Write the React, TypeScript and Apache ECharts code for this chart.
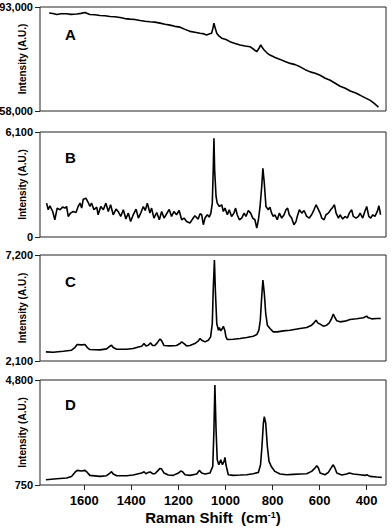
import React, { useEffect, useRef } from "react";
import * as echarts from "echarts";

// Raman shift ticks (cm-1)
const xTicks = [400, 600, 800, 1000, 1200, 1400, 1600];
const panelLabels = ["A", "B", "C", "D"];
const yMins = [58000, 0, 2100, 750];
const yMaxs = [93000, 6100, 7200, 4800];

// [Raman shift, intensity]
const specA: [number, number][] = [
  [1749, 90970], [1733, 90800], [1717, 90500], [1699, 90730], [1675, 90730], [1657, 90530],
  [1632, 90630], [1614, 90860], [1597, 91170], [1576, 90490], [1555, 90390], [1533, 90150],
  [1512, 90080], [1491, 89810], [1470, 89710], [1448, 89470], [1427, 89100], [1406, 88930],
  [1385, 88800], [1363, 88460], [1342, 88190], [1321, 88020], [1300, 87920], [1278, 87580],
  [1257, 87170], [1236, 86900], [1215, 86490], [1193, 86220], [1172, 85470], [1151, 84800],
  [1130, 84530], [1108, 84190], [1091, 83950], [1080, 83610], [1070, 83880], [1059, 84190],
  [1053, 85980], [1049, 87580], [1044, 85980], [1037, 84190], [1028, 83270], [1016, 82490],
  [998, 82080], [981, 81340], [959, 80730], [938, 80220], [917, 79880], [896, 79640],
  [879, 78690], [867, 77950], [857, 79200], [850, 80220], [845, 79540], [836, 78520],
  [823, 77510], [811, 76830], [789, 75980], [768, 75370], [747, 74630], [725, 74020],
  [704, 73610], [683, 72860], [661, 71910], [640, 71170], [619, 70730], [598, 70050],
  [576, 69030], [555, 68350], [534, 67340], [513, 66320], [491, 65640], [470, 64730],
  [449, 64120], [427, 63270], [406, 62420], [385, 61580], [368, 60560], [350, 59300],
];

const specB: [number, number][] = [
  [1760, 1969], [1753, 1581], [1746, 1812], [1734, 1482], [1725, 1002], [1715, 1679],
  [1703, 1581], [1692, 1737], [1682, 1679], [1675, 1772], [1668, 1193], [1658, 1390],
  [1647, 1482], [1635, 1424], [1626, 1772], [1618, 1969], [1611, 1679], [1604, 2200],
  [1593, 2258], [1583, 2003], [1576, 1772], [1569, 1969], [1559, 1581], [1547, 1737],
  [1541, 1291], [1530, 1772], [1519, 1581], [1508, 1969], [1498, 1482], [1488, 1870],
  [1477, 1291], [1465, 1621], [1456, 1482], [1445, 1193], [1434, 1581], [1423, 1042],
  [1413, 1390], [1403, 903], [1392, 1291], [1380, 1621], [1370, 1100], [1360, 1390],
  [1349, 1772], [1341, 1540], [1332, 1969], [1321, 1390], [1314, 1679], [1304, 1100],
  [1292, 1424], [1281, 1002], [1271, 1482], [1261, 1100], [1250, 1349], [1239, 1600],
  [1229, 1193], [1219, 1482], [1208, 1291], [1197, 1540], [1186, 1002], [1176, 1100],
  [1165, 903], [1151, 811], [1140, 1042], [1130, 1233], [1116, 1042], [1108, 1349],
  [1101, 1292], [1094, 713], [1087, 1099], [1077, 1292], [1069, 1156], [1062, 1388],
  [1056, 1967], [1052, 3897], [1049, 5731], [1046, 3897], [1040, 2353], [1035, 1967],
  [1026, 1774], [1016, 1871], [1009, 1485], [1002, 1678], [992, 1292], [984, 1581],
  [974, 1195], [964, 1388], [957, 1678], [950, 1292], [941, 1002], [931, 1099],
  [921, 1388], [913, 1195], [903, 1542], [893, 1388], [884, 1099], [875, 1002],
  [867, 520], [860, 1002], [853, 1774], [846, 2932], [841, 3994], [835, 3125],
  [828, 1774], [818, 1581], [811, 1735], [804, 1388], [797, 1195], [790, 1292],
  [780, 1002], [771, 1388], [761, 1099], [751, 1292], [743, 1581], [736, 1678],
  [729, 1292], [719, 1099], [709, 713], [700, 906], [695, 1195], [686, 1581],
  [676, 1388], [666, 1542], [655, 1195], [644, 1099], [634, 1292], [624, 1581],
  [615, 1871], [608, 1678], [598, 1388], [591, 1099], [581, 1002], [573, 1292],
  [563, 1388], [553, 1581], [544, 1735], [537, 1871], [530, 1388], [520, 1099],
  [513, 1292], [502, 1041], [492, 1195], [482, 1099], [474, 1388], [464, 1581],
  [457, 1195], [445, 1099], [435, 1195], [428, 1388], [417, 1099], [408, 1485],
  [400, 1774], [391, 1195], [383, 1099], [374, 1292], [365, 1195], [355, 1485],
  [348, 1813], [341, 1292],
];

const specC: [number, number][] = [
  [1763, 2537], [1732, 2521], [1689, 2569], [1654, 2618], [1640, 2746], [1630, 2891],
  [1611, 2875], [1597, 2891], [1587, 2746], [1576, 2650], [1533, 2634], [1505, 2682],
  [1491, 2811], [1484, 2859], [1477, 2746], [1462, 2666], [1420, 2666], [1392, 2698],
  [1370, 2778], [1356, 2811], [1346, 2939], [1338, 2827], [1328, 2859], [1318, 2971],
  [1310, 2843], [1300, 2843], [1290, 2971], [1278, 3164], [1271, 3068], [1261, 2843],
  [1236, 2827], [1208, 2843], [1193, 2939], [1186, 3020], [1176, 2939], [1165, 2827],
  [1151, 2843], [1130, 2939], [1115, 3068], [1108, 3180], [1101, 3100], [1087, 3020],
  [1073, 3100], [1063, 3261], [1056, 3904], [1052, 5512], [1047, 6959], [1043, 5512],
  [1037, 3904], [1030, 3582], [1026, 3711], [1020, 3550], [1013, 3663], [1009, 3775],
  [1003, 3582], [998, 3261], [992, 3132], [967, 3148], [938, 3180], [910, 3229],
  [882, 3293], [867, 3373], [858, 3582], [852, 4065], [846, 5190], [841, 5994],
  [835, 5351], [829, 4386], [822, 3824], [811, 3663], [797, 3502], [780, 3502],
  [754, 3550], [726, 3582], [683, 3663], [655, 3711], [634, 3824], [624, 3936],
  [615, 4065], [608, 3936], [598, 3872], [584, 3775], [570, 3824], [559, 3936],
  [549, 4145], [542, 4354], [535, 4193], [527, 4033], [513, 3984], [492, 4017],
  [471, 4097], [443, 4129], [414, 4177], [400, 4258], [393, 4177], [379, 4129],
  [357, 4145], [340, 4145],
];

const specD: [number, number][] = [
  [1763, 954], [1717, 993], [1675, 1018], [1654, 1082], [1640, 1236], [1630, 1313],
  [1611, 1287], [1597, 1313], [1587, 1236], [1576, 1121], [1533, 1082], [1505, 1108],
  [1491, 1210], [1484, 1262], [1477, 1172], [1462, 1108], [1420, 1108], [1392, 1133],
  [1370, 1185], [1356, 1210], [1346, 1262], [1338, 1185], [1328, 1236], [1318, 1249],
  [1310, 1185], [1300, 1185], [1290, 1275], [1278, 1390], [1271, 1364], [1261, 1210],
  [1243, 1133], [1222, 1121], [1200, 1210], [1190, 1287], [1182, 1262], [1172, 1146],
  [1151, 1121], [1122, 1172], [1111, 1313], [1101, 1210], [1087, 1172], [1066, 1210],
  [1054, 1467], [1049, 2877], [1045, 4608], [1040, 2877], [1035, 1723], [1028, 1531],
  [1020, 1723], [1013, 1531], [1006, 1659], [1002, 1813], [998, 1531], [988, 1146],
  [967, 1121], [938, 1133], [910, 1146], [882, 1185], [860, 1236], [851, 1531],
  [845, 2236], [839, 3133], [835, 3390], [829, 3133], [822, 2236], [815, 1659],
  [804, 1441], [790, 1275], [768, 1172], [740, 1146], [712, 1159], [683, 1172],
  [655, 1185], [634, 1275], [620, 1403], [612, 1492], [605, 1403], [598, 1210],
  [577, 1146], [563, 1236], [549, 1441], [542, 1531], [535, 1403], [527, 1210],
  [506, 1133], [485, 1172], [474, 1210], [457, 1172], [428, 1146], [407, 1121],
  [400, 1146], [386, 1082], [357, 1057], [336, 1044],
];

const spectra = [specA, specB, specC, specD];

const FONT = "'Liberation Sans', Arial, Helvetica, sans-serif";
const gridTops = [7, 132, 255, 380];
const gridHeights = [104, 105, 106, 105];
const labelCenters = [35, 157.7, 281.7, 405.3];

const fmt = (v: number) => v.toLocaleString("en-US");

export default function App() {
  const ref = useRef<HTMLDivElement>(null);

  useEffect(() => {
    if (!ref.current) return;
    const chart = echarts.init(ref.current, undefined, { renderer: "svg" });

    const grids = gridTops.map((top, i) => ({
      left: 40,
      top,
      width: 346,
      height: gridHeights[i],
      show: true,
      borderColor: "#222",
      borderWidth: 1,
      backgroundColor: "transparent",
      outerBoundsMode: "none",
      containLabel: false,
    }));

    const xAxes = gridTops.map((_, i) => {
      const last = i === 3;
      return {
        gridIndex: i,
        type: "value",
        min: 318,
        max: 1788,
        inverse: true,
        axisLine: { show: false },
        splitLine: { show: false },
        axisTick: {
          show: last,
          length: 5,
          customValues: xTicks,
          lineStyle: { color: "#222", width: 1 },
        },
        axisLabel: {
          show: last,
          customValues: xTicks,
          formatter: (v: number) => String(v),
          fontSize: 13,
          fontWeight: "bold",
          color: "#000",
          fontFamily: FONT,
          margin: 9,
        },
        name: last ? "Raman Shift  (cm{sup|-1})" : "",
        nameLocation: "middle",
        nameGap: 25,
        nameMoveOverlap: false,
        nameTextStyle: {
          fontSize: 15,
          fontWeight: "bold",
          color: "#000",
          fontFamily: FONT,
          rich: {
            sup: {
              fontSize: 9,
              fontWeight: "bold",
              color: "#000",
              fontFamily: FONT,
              verticalAlign: "top",
            },
          },
        },
      };
    });

    const yAxes = gridTops.map((_, i) => ({
      gridIndex: i,
      type: "value",
      min: yMins[i],
      max: yMaxs[i],
      axisLine: { show: false },
      splitLine: { show: false },
      axisTick: {
        show: true,
        length: 5,
        customValues: [yMins[i], yMaxs[i]],
        lineStyle: { color: "#222", width: 1 },
      },
      axisLabel: {
        customValues: [yMins[i], yMaxs[i]],
        formatter: (v: number) => fmt(v),
        fontSize: 11,
        fontWeight: "bold",
        color: "#000",
        fontFamily: FONT,
        margin: 7,
      },
      name: "Intensity (A.U.)",
      nameLocation: "middle",
      nameGap: 13,
      nameMoveOverlap: false,
      nameTextStyle: {
        fontSize: 10,
        fontWeight: "bold",
        color: "#000",
        fontFamily: FONT,
      },
    }));

    const series = spectra.map((data, i) => ({
      type: "line",
      xAxisIndex: i,
      yAxisIndex: i,
      data,
      showSymbol: false,
      symbol: "none",
      lineStyle: { color: "#000", width: 1.6 },
      silent: true,
    }));

    const graphic = panelLabels.map((t, i) => ({
      type: "text",
      left: 65,
      top: labelCenters[i] - 8,
      style: {
        text: t,
        fontSize: 15,
        fontWeight: "bold",
        fill: "#000",
        fontFamily: FONT,
      },
    }));

    chart.setOption({
      animation: false,
      backgroundColor: "#fff",
      grid: grids,
      xAxis: xAxes,
      yAxis: yAxes,
      series,
      graphic,
    } as any);

    return () => chart.dispose();
  }, []);

  return (
    <div
      ref={ref}
      style={{ position: "absolute", left: 0, top: 0, width: 392, height: 531 }}
    />
  );
}
